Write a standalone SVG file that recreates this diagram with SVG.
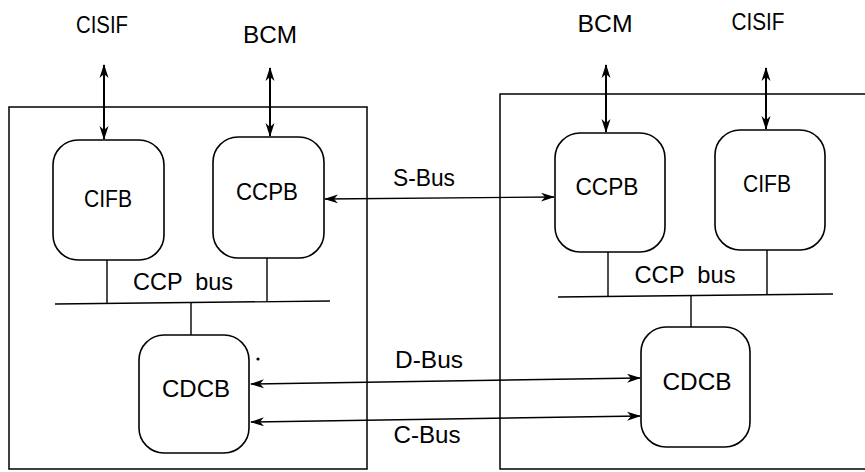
<svg xmlns="http://www.w3.org/2000/svg" width="865" height="472" viewBox="0 0 865 472">
  <style>
    .frame { fill: none; stroke: #000; stroke-width: 1.5; }
    .node { fill: #fff; stroke: #000; stroke-width: 1.6; }
    .line { fill: none; stroke: #000; stroke-width: 1.4; }
    .ext { fill: none; stroke: #000; stroke-width: 2; }
    .lbl { font-family: "Liberation Sans", Arial, sans-serif; font-size: 24px; fill: #000; text-anchor: middle; }
  </style>
  <defs>
    <marker id="ah" viewBox="0 0 14 10" refX="13" refY="5" markerWidth="14" markerHeight="10" markerUnits="userSpaceOnUse" orient="auto-start-reverse">
      <path d="M0,0.5 L14,5 L0,9.5 L4,5 Z" fill="#000"/>
    </marker>
  </defs>
  <rect width="865" height="472" fill="#fff"/>

  <g id="frames">
    <rect class="frame" x="9" y="107" width="358" height="362"/>
    <rect class="frame" x="500" y="94" width="400" height="375"/>
  </g>

  <g id="connectors">
    <line class="ext" x1="104" y1="65" x2="104" y2="139" marker-start="url(#ah)" marker-end="url(#ah)"/>
    <line class="ext" x1="270" y1="68" x2="270" y2="136" marker-start="url(#ah)" marker-end="url(#ah)"/>
    <line class="ext" x1="606" y1="65" x2="606" y2="132" marker-start="url(#ah)" marker-end="url(#ah)"/>
    <line class="ext" x1="766" y1="68" x2="766" y2="129" marker-start="url(#ah)" marker-end="url(#ah)"/>
    <line class="line" x1="325" y1="199" x2="554" y2="197" marker-start="url(#ah)" marker-end="url(#ah)"/>
    <line class="line" x1="251" y1="384" x2="640" y2="378" marker-start="url(#ah)" marker-end="url(#ah)"/>
    <line class="line" x1="251" y1="422" x2="640" y2="416" marker-start="url(#ah)" marker-end="url(#ah)"/>
    <line class="line" x1="55" y1="304" x2="330" y2="301"/>
    <line class="line" x1="107" y1="260" x2="107" y2="303"/>
    <line class="line" x1="267" y1="258" x2="267" y2="302"/>
    <line class="line" x1="191" y1="303" x2="191" y2="335"/>
    <line class="line" x1="558" y1="297" x2="833" y2="294"/>
    <line class="line" x1="608" y1="252" x2="608" y2="297"/>
    <line class="line" x1="767" y1="250" x2="767" y2="295"/>
    <line class="line" x1="691" y1="296" x2="691" y2="327"/>
  </g>

  <g id="ext-labels">
    <text class="lbl" x="102" y="33" textLength="52" lengthAdjust="spacingAndGlyphs">CISIF</text>
    <text class="lbl" x="270" y="43" textLength="54" lengthAdjust="spacingAndGlyphs">BCM</text>
    <text class="lbl" x="605" y="32" textLength="55" lengthAdjust="spacingAndGlyphs">BCM</text>
    <text class="lbl" x="758" y="30" textLength="53" lengthAdjust="spacingAndGlyphs">CISIF</text>
  </g>

  <g id="bus-labels">
    <text class="lbl" x="424" y="186" textLength="62" lengthAdjust="spacingAndGlyphs">S-Bus</text>
    <text class="lbl" x="429" y="368" textLength="68" lengthAdjust="spacingAndGlyphs">D-Bus</text>
    <text class="lbl" x="427" y="443" textLength="67" lengthAdjust="spacingAndGlyphs">C-Bus</text>
    <text class="lbl" x="183" y="290" textLength="100" lengthAdjust="spacingAndGlyphs" xml:space="preserve">CCP  bus</text>
    <text class="lbl" x="685" y="283" textLength="101" lengthAdjust="spacingAndGlyphs" xml:space="preserve">CCP  bus</text>
  </g>

  <g id="left-cifb">
    <rect class="node" x="53" y="140" width="111" height="120" rx="25"/>
    <text class="lbl" x="108" y="207" textLength="48" lengthAdjust="spacingAndGlyphs">CIFB</text>
  </g>
  <g id="left-ccpb">
    <rect class="node" x="213" y="137" width="111" height="121" rx="25"/>
    <text class="lbl" x="267" y="200" textLength="62" lengthAdjust="spacingAndGlyphs">CCPB</text>
  </g>
  <g id="left-cdcb">
    <rect class="node" x="139" y="335" width="110" height="118" rx="25"/>
    <text class="lbl" x="196" y="397" textLength="68" lengthAdjust="spacingAndGlyphs">CDCB</text>
  </g>
  <g id="right-ccpb">
    <rect class="node" x="555" y="133" width="110" height="119" rx="25"/>
    <text class="lbl" x="607" y="195" textLength="63" lengthAdjust="spacingAndGlyphs">CCPB</text>
  </g>
  <g id="right-cifb">
    <rect class="node" x="715" y="130" width="110" height="120" rx="25"/>
    <text class="lbl" x="767" y="192" textLength="48" lengthAdjust="spacingAndGlyphs">CIFB</text>
  </g>
  <g id="right-cdcb">
    <rect class="node" x="641" y="327" width="109" height="120" rx="25"/>
    <text class="lbl" x="697" y="390" textLength="69" lengthAdjust="spacingAndGlyphs">CDCB</text>
  </g>

  <circle cx="258" cy="359" r="1.6" fill="#000"/>
</svg>
